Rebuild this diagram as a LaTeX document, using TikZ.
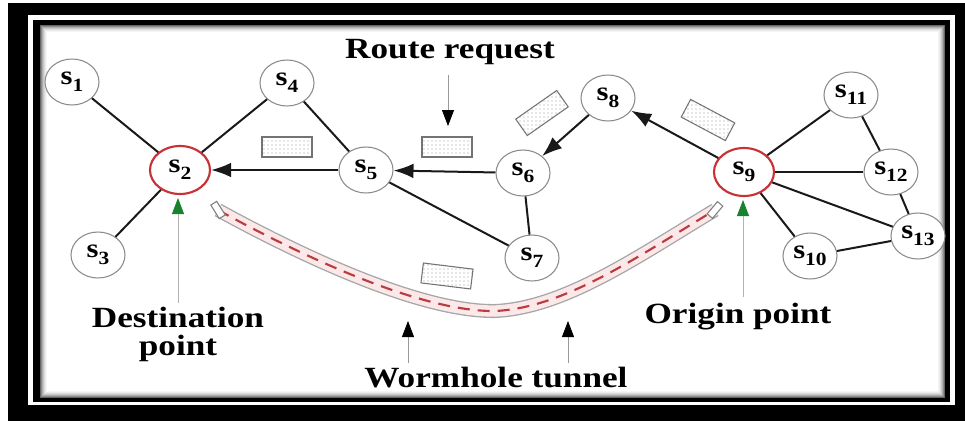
\documentclass[tikz,border=0pt]{standalone}
\usepackage{fontspec}
\setmainfont{Liberation Serif}
\usepackage{graphicx}
\usetikzlibrary{arrows.meta,shapes.geometric,patterns}
\definecolor{ringred}{RGB}{200,50,55}
\definecolor{greenhead}{RGB}{25,130,45}
\definecolor{tubefill}{RGB}{252,232,232}
\definecolor{dashred}{RGB}{185,60,65}
\tikzset{
  sensor/.style={ellipse,draw=black!45,line width=0.8pt,fill=white,minimum width=54*0.75pt,minimum height=46*0.75pt,inner sep=0pt,font=\fontsize{20}{21}\selectfont\bfseries},
  redsensor/.style={sensor,draw=ringred,line width=1.6pt,minimum width=60*0.75pt,minimum height=48*0.75pt},
  link/.style={line width=1.5pt,black!90},
  msg/.style={-{Latex[length=15pt,width=11pt]},line width=1.5pt,black!90},
  packet/.style={rectangle,draw=black!55,line width=0.8pt,pattern=dots,pattern color=black!40,minimum width=50*0.75pt,minimum height=20*0.75pt,inner sep=0pt},
  caption/.style={font=\fontsize{22}{24}\selectfont\bfseries,inner sep=0pt,align=center},
  pointer/.style={-{Triangle[length=12pt,width=9pt,color=black]},line width=0.6pt,black!40},
  greenpointer/.style={-{Triangle[length=12pt,width=9pt,color=greenhead]},line width=0.6pt,black!30},
}
\newcommand{\sn}[1]{\scalebox{1.15}[1]{s\raisebox{-5pt}{\fontsize{14}{14}\selectfont\bfseries #1}}}
\newcommand{\capt}[1]{\scalebox{1.2}[1]{#1}}
\begin{document}
\begin{tikzpicture}[x=0.75pt,y=-0.75pt]
\useasboundingbox (0,0) rectangle (965,421);
% frame
\fill[black] (8,3) rectangle (965,421);
\fill[white] (28,15) rectangle (955,405);
\fill[black] (33,20) rectangle (950,402);
\fill[white] (40,25) rectangle (945,398);
\foreach \i/\c in {0/60,1/45,2/32,3/22,4/14,5/8,6/4}{
  \draw[black!\c,line width=0.75pt] (40.5+\i,25.5+\i) rectangle (944.5-\i,397.5-\i);
}
% tunnel
\coordinate (ta) at (218,210);
\coordinate (tb) at (715,210);
\def\tube{(ta) .. controls (300,255) and (420,312) .. (495,311) .. controls (565,308) and (640,255) .. (tb)}
\draw[black!35,line width=10.5pt] \tube;
\draw[tubefill,line width=8.5pt] \tube;
\draw[dashred,line width=1.6pt,dash pattern=on 9pt off 6pt] \tube;
\node[rectangle,draw=black!50,fill=white,line width=0.8pt,minimum width=16*0.75pt,minimum height=7*0.75pt,inner sep=0pt,rotate=-58] (capa) at (ta) {};
\node[rectangle,draw=black!50,fill=white,line width=0.8pt,minimum width=16*0.75pt,minimum height=7*0.75pt,inner sep=0pt,rotate=50] (capb) at (tb) {};
% nodes
\node[sensor] (s1) at (72,82) {\sn{1}};
\node[redsensor] (s2) at (180,170) {\sn{2}};
\node[sensor] (s3) at (98,255) {\sn{3}};
\node[sensor] (s4) at (287,83) {\sn{4}};
\node[sensor] (s5) at (366,170) {\sn{5}};
\node[sensor] (s6) at (523,173) {\sn{6}};
\node[sensor] (s7) at (532,258) {\sn{7}};
\node[sensor] (s8) at (608,98) {\sn{8}};
\node[redsensor] (s9) at (744,172) {\sn{9}};
\node[sensor] (s10) at (810,256) {\sn{10}};
\node[sensor] (s11) at (851,95) {\sn{11}};
\node[sensor] (s12) at (891,172) {\sn{12}};
\node[sensor] (s13) at (918,236) {\sn{13}};
% links
\draw[link] (s1) -- (s2);
\draw[link] (s4) -- (s2);
\draw[link] (s3) -- (s2);
\draw[link] (s4) -- (s5);
\draw[link] (s5) -- (s7);
\draw[link] (s6) -- (s7);
\draw[link] (s9) -- (s11);
\draw[link] (s9) -- (s12);
\draw[link] (s9) -- (s13);
\draw[link] (s9) -- (s10);
\draw[link] (s11) -- (s12);
\draw[link] (s12) -- (s13);
\draw[link] (s10) -- (s13);
\draw[msg] (s5) -- (s2);
\draw[msg] (s6) -- (s5);
\draw[msg] (s8) -- (s6);
\draw[msg] (s9) -- (s8);
% packets
\node[packet] (p1) at (287,147) {};
\node[packet] (p2) at (447,147) {};
\node[packet,rotate=35] (p3) at (542,113) {};
\node[packet,rotate=-28] (p4) at (708,120) {};
\node[packet,rotate=-7] (p5) at (447,276) {};
% captions
\node[caption] (rr) at (450,52) {\capt{Route request}};
\coordinate (rrs) at (448,75);
\coordinate (rrt) at (448,126);
\draw[pointer] (rrs) -- (rrt);
\node[caption] (dp) at (178,334) {\capt{Destination}\\[-3pt]\capt{point}};
\coordinate (dps) at (178,303);
\coordinate (dpt) at (178,198);
\draw[greenpointer] (dps) -- (dpt);
\node[caption] (op) at (738,317) {\capt{Origin point}};
\coordinate (ops) at (743,297);
\coordinate (opt) at (743,200);
\draw[greenpointer] (ops) -- (opt);
\node[caption] (wt) at (496,378) {\capt{Wormhole tunnel}};
\coordinate (w1s) at (408,363);
\coordinate (w1t) at (408,321);
\coordinate (w2s) at (568,363);
\coordinate (w2t) at (568,321);
\draw[pointer] (w1s) -- (w1t);
\draw[pointer] (w2s) -- (w2t);
\end{tikzpicture}
\end{document}
